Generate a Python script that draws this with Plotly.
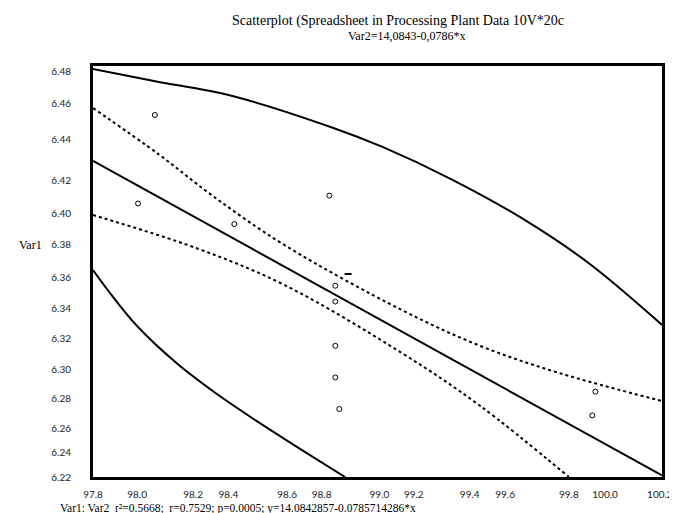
import plotly.graph_objects as go

# ---- data ----
pts_x = [98.061, 97.990, 98.396, 98.797, 98.822, 98.822, 98.822, 98.822, 98.839, 99.919, 99.906]
pts_y = [6.449, 6.393, 6.380, 6.398, 6.341, 6.331, 6.303, 6.283, 6.263, 6.274, 6.259]

mark_x = [98.876]
mark_y = [6.3484]

reg_x = [97.8, 100.2]
reg_y = [6.420, 6.221]

up_pred_x = [97.8, 98.057, 98.388, 98.814, 99.021, 99.310, 99.600, 99.890, 100.2]
up_pred_y = [6.4781, 6.4705, 6.4610, 6.4408, 6.4288, 6.4085, 6.3845, 6.3554, 6.3162]

lo_pred_x = [97.8, 97.862, 97.986, 98.152, 98.317, 98.483, 98.648, 98.863]
lo_pred_y = [6.3509, 6.3383, 6.3155, 6.2921, 6.2731, 6.2561, 6.2402, 6.22]

up_conf_x = [97.8, 98.081, 98.305, 98.607, 99.103, 99.434, 99.766, 100.2]
up_conf_y = [6.4534, 6.4237, 6.3978, 6.3668, 6.3256, 6.3029, 6.2858, 6.2681]

lo_conf_x = [97.8, 98.234, 98.607, 99.103, 99.434, 99.807]
lo_conf_y = [6.3857, 6.3649, 6.3415, 6.2984, 6.2649, 6.22]

x_tick_labels = ["97.8", "98.0", "98.2", "98.4", "98.6", "98.8", "99.0", "99.2",
                 "99.4", "99.6", "99.8", "100.0", "100.2"]
x_tick_pos = [97.8, 97.986, 98.222, 98.371, 98.619, 98.764, 99.008, 99.153,
              99.389, 99.538, 99.807, 99.960, 100.191]

y_tick_labels = ["6.48", "6.46", "6.44", "6.42", "6.40", "6.38", "6.36", "6.34",
                 "6.32", "6.30", "6.28", "6.26", "6.24", "6.22"]
y_tick_pos = [6.4768, 6.456, 6.4332, 6.4073, 6.387, 6.3668, 6.3459, 6.3269,
              6.3079, 6.2877, 6.2694, 6.2510, 6.2358, 6.22]

title_text = "Scatterplot (Spreadsheet in Processing Plant Data 10V*20c"
subtitle_text = "Var2=14,0843-0,0786*x"
footer_text = "Var1: Var2  r²=0.5668;  r=0.7529; p=0.0005; y=14.0842857-0.0785714286*x"

# ---- figure ----
fig = go.Figure()
solid = dict(color="black", width=2)
dashed = dict(color="black", width=2, dash="3px,3px")

fig.add_trace(go.Scatter(x=up_pred_x, y=up_pred_y, mode="lines", line=dict(**solid, shape="spline")))
fig.add_trace(go.Scatter(x=lo_pred_x, y=lo_pred_y, mode="lines", line=dict(**solid, shape="spline")))
fig.add_trace(go.Scatter(x=up_conf_x, y=up_conf_y, mode="lines", line=dict(**dashed, shape="spline")))
fig.add_trace(go.Scatter(x=lo_conf_x, y=lo_conf_y, mode="lines", line=dict(**dashed, shape="spline")))
fig.add_trace(go.Scatter(x=reg_x, y=reg_y, mode="lines", line=solid))
fig.add_trace(go.Scatter(x=pts_x, y=pts_y, mode="markers",
                         marker=dict(symbol="circle-open", size=5, color="black", line=dict(width=1))))
fig.add_trace(go.Scatter(x=mark_x, y=mark_y, mode="markers",
                         marker=dict(symbol="line-ew-open", size=5, color="black", line=dict(width=2, color="black"))))

fig.update_layout(
    width=677, height=513,
    margin=dict(l=85, r=12, t=58, b=44),
    paper_bgcolor="white", plot_bgcolor="white",
    showlegend=False,
    font=dict(family="Liberation Serif", color="black"),
)
fig.update_xaxes(range=[97.8, 100.2], tickmode="array", tickvals=x_tick_pos, ticktext=x_tick_labels,
                 showgrid=False, zeroline=False, showline=True, mirror=True, linecolor="black",
                 linewidth=3, ticks="", ticklabelstandoff=6,
                 tickfont=dict(family="Lato", size=10, color="#222"))
fig.update_yaxes(range=[6.22, 6.48], tickmode="array", tickvals=y_tick_pos, ticktext=y_tick_labels,
                 showgrid=False, zeroline=False, showline=True, mirror=True, linecolor="black",
                 linewidth=3, ticks="", ticklabelstandoff=17,
                 tickfont=dict(family="Lato", size=10, color="#222"))

fig.add_annotation(text=title_text, xref="paper", yref="paper", x=(396 - 85) / 580, y=(469 - 13) / 411,
                   xanchor="center", yanchor="middle", showarrow=False,
                   font=dict(family="Liberation Serif", size=14, color="black"))
fig.add_annotation(text=subtitle_text, xref="paper", yref="paper", x=(405 - 85) / 580, y=(469 - 28) / 411,
                   xanchor="center", yanchor="middle", showarrow=False,
                   font=dict(family="Liberation Serif", size=12, color="black"))
fig.add_annotation(text="Var1", xref="paper", yref="paper", x=(8 - 85) / 580, y=(469 - 237) / 411,
                   xanchor="left", yanchor="middle", showarrow=False,
                   font=dict(family="Liberation Serif", size=12, color="black"))
fig.add_annotation(text=footer_text, xref="paper", yref="paper", x=(50 - 85) / 580, y=(469 - 500) / 411,
                   xanchor="left", yanchor="middle", showarrow=False, borderpad=0,
                   font=dict(family="Liberation Serif", size=11.5, color="black"))

fig.write_html("out.html")
